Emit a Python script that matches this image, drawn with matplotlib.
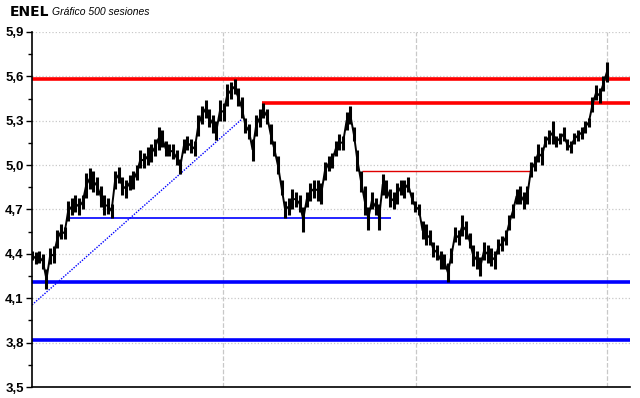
import numpy as np
import matplotlib
matplotlib.use('Agg')
import matplotlib.pyplot as plt
from matplotlib.ticker import FuncFormatter, FixedLocator

# price range of each bin (about 3 sessions per bin)
lows = [4.36, 4.33, 4.34, 4.30, 4.16, 4.33, 4.34, 4.44, 4.50, 4.50,
        4.62, 4.66, 4.68, 4.66, 4.70, 4.78, 4.84, 4.82, 4.80, 4.72,
        4.66, 4.67, 4.64, 4.84, 4.88, 4.80, 4.78, 4.83, 4.84, 4.90,
        4.98, 4.98, 5.00, 5.02, 5.06, 5.10, 5.12, 5.06, 5.06, 5.04,
        5.00, 4.94, 5.08, 5.10, 5.08, 5.06, 5.20, 5.28, 5.32, 5.26,
        5.22, 5.17, 5.30, 5.30, 5.40, 5.45, 5.48, 5.40, 5.32, 5.22,
        5.18, 5.03, 5.20, 5.26, 5.32, 5.28, 5.14, 5.06, 4.94, 4.80,
        4.64, 4.66, 4.70, 4.72, 4.68, 4.55, 4.72, 4.76, 4.78, 4.76,
        4.74, 4.90, 4.96, 4.98, 5.06, 5.10, 5.10, 5.24, 5.28, 5.16,
        4.96, 4.82, 4.66, 4.56, 4.70, 4.66, 4.56, 4.80, 4.78, 4.72,
        4.70, 4.74, 4.80, 4.78, 4.82, 4.74, 4.68, 4.66, 4.50, 4.46,
        4.46, 4.38, 4.36, 4.30, 4.30, 4.21, 4.34, 4.48, 4.46, 4.52,
        4.50, 4.44, 4.32, 4.30, 4.25, 4.36, 4.34, 4.32, 4.30, 4.40,
        4.42, 4.46, 4.56, 4.64, 4.74, 4.74, 4.70, 4.74, 4.92, 4.96,
        5.02, 5.00, 5.12, 5.14, 5.14, 5.12, 5.14, 5.16, 5.10, 5.08,
        5.14, 5.16, 5.18, 5.22, 5.26, 5.36, 5.44, 5.42, 5.50, 5.56]
highs = [4.42, 4.41, 4.42, 4.40, 4.30, 4.44, 4.45, 4.56, 4.60, 4.58,
         4.76, 4.78, 4.80, 4.78, 4.80, 4.95, 4.98, 4.96, 4.92, 4.86,
         4.80, 4.78, 4.74, 4.96, 4.99, 4.92, 4.90, 4.93, 4.96, 5.00,
         5.10, 5.08, 5.12, 5.14, 5.18, 5.26, 5.24, 5.16, 5.14, 5.14,
         5.10, 5.04, 5.18, 5.20, 5.18, 5.16, 5.34, 5.40, 5.44, 5.38,
         5.34, 5.30, 5.44, 5.42, 5.55, 5.56, 5.58, 5.52, 5.46, 5.32,
         5.28, 5.18, 5.34, 5.38, 5.42, 5.38, 5.28, 5.16, 5.06, 4.90,
         4.76, 4.78, 4.84, 4.82, 4.80, 4.72, 4.82, 4.88, 4.90, 4.90,
         4.88, 5.02, 5.06, 5.08, 5.16, 5.21, 5.20, 5.36, 5.40, 5.26,
         5.10, 4.96, 4.86, 4.72, 4.82, 4.78, 4.74, 4.94, 4.90, 4.84,
         4.82, 4.88, 4.90, 4.90, 4.92, 4.82, 4.76, 4.74, 4.62, 4.60,
         4.56, 4.48, 4.46, 4.42, 4.40, 4.34, 4.44, 4.58, 4.56, 4.66,
         4.62, 4.54, 4.46, 4.42, 4.38, 4.48, 4.46, 4.44, 4.42, 4.50,
         4.52, 4.56, 4.66, 4.74, 4.84, 4.86, 4.82, 4.86, 5.02, 5.06,
         5.14, 5.12, 5.20, 5.24, 5.30, 5.20, 5.22, 5.26, 5.18, 5.16,
         5.22, 5.24, 5.26, 5.30, 5.32, 5.46, 5.54, 5.52, 5.60, 5.70]

n_sessions = 500
session_grid = [166, 333, 499]
y_ticks = [3.5, 3.8, 4.1, 4.4, 4.7, 5.0, 5.3, 5.6, 5.9]
y_minor = [3.65, 3.95, 4.25, 4.55, 4.85, 5.15, 5.45, 5.75]

# support / resistance lines: (level, start session, end session)
red_full = 5.58
red_short = (5.42, 200)
red_thin = (4.96, 286, 434)
blue_full = [4.21, 3.82]
blue_thin = (4.64, 32, 312)
trend = ([0, 182], [4.055, 5.31])

sessions = np.linspace(0, n_sessions - 1, len(lows))
mids = [(l + h) / 2 for l, h in zip(lows, highs)]

fig = plt.figure(figsize=(6.4, 3.98), dpi=100)
ax = fig.add_axes([32 / 640, 11 / 398, 598 / 640, 355 / 398])

ax.set_xlim(0, 519)
ax.set_ylim(3.5, 5.9)

# grid
for v in y_ticks:
    ax.axhline(v, color='#c8c8c8', linestyle=':', linewidth=0.9, zorder=0)
for s in session_grid:
    ax.axvline(s, color='#c8c8c8', linestyle='--', linewidth=0.9, zorder=0)

# levels
ax.axhline(red_full, color='#ff0000', linewidth=2.6, zorder=2)
ax.hlines(red_short[0], red_short[1], 519, color='#ff0000', linewidth=2.6, zorder=2)
ax.hlines(red_thin[0], red_thin[1], red_thin[2], color='#e00000', linewidth=1.0, zorder=2)
for b in blue_full:
    ax.axhline(b, color='#0000ff', linewidth=2.6, zorder=2)
ax.hlines(blue_thin[0], blue_thin[1], blue_thin[2], color='#0000ff', linewidth=1.2, zorder=2)
ax.plot(trend[0], trend[1], color='#0000ff', linestyle=(0, (1, 1)), linewidth=1.0, zorder=2)

# price bars
ax.vlines(sessions, lows, highs, color='black', linewidth=2.2, zorder=3)
ax.plot(sessions, mids, color='black', linewidth=1.4, zorder=3)

# axes styling
for sp in ['top', 'right']:
    ax.spines[sp].set_visible(False)
ax.spines['left'].set_linewidth(1.2)
ax.spines['bottom'].set_linewidth(1.2)
ax.set_xticks([])
ax.yaxis.set_major_locator(FixedLocator(y_ticks))
ax.yaxis.set_minor_locator(FixedLocator(y_minor))
ax.yaxis.set_major_formatter(FuncFormatter(lambda v, p: '{:.1f}'.format(v).replace('.', ',')))
ax.tick_params(axis='y', which='major', length=4, width=1, pad=2)
ax.tick_params(axis='y', which='minor', length=3, width=1)
for lab in ax.get_yticklabels():
    lab.set_fontfamily('Liberation Sans')
    lab.set_fontweight('bold')
    lab.set_fontsize(9.5)

fig.text(10 / 640, 1 - 12 / 398, 'ENEL', fontsize=10, fontweight='bold', va='center',
         family='DejaVu Sans')
fig.text(52 / 640, 1 - 12 / 398, 'Gráfico 500 sesiones', fontsize=7.5, style='italic',
         va='center', family='Liberation Sans')

fig.savefig('out.png', dpi=100)
